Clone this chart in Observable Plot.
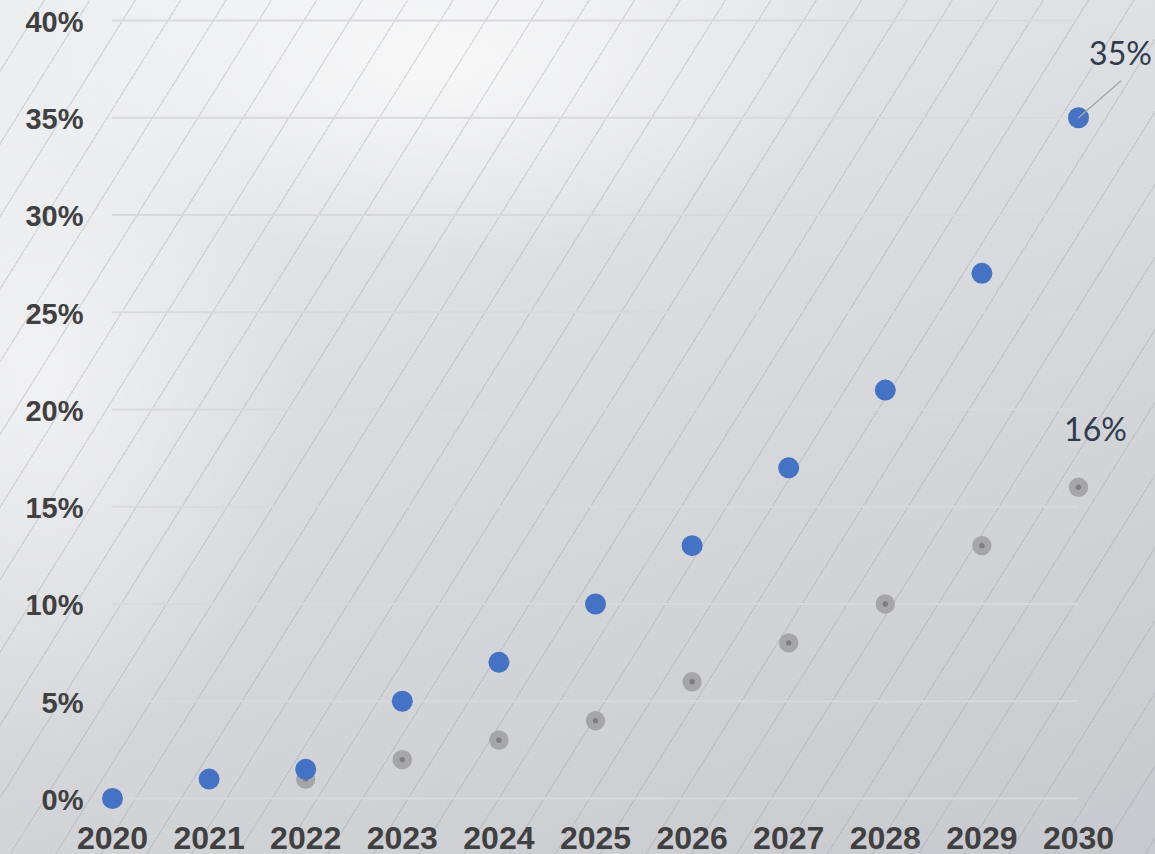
<!DOCTYPE html>
<html>
<head>
<meta charset="utf-8">
<script src="https://cdn.jsdelivr.net/npm/d3@7"></script>
<script src="https://cdn.jsdelivr.net/npm/@observablehq/plot@0.6"></script>
<style>
  html, body { margin: 0; padding: 0; }
  body { width: 1155px; height: 854px; overflow: hidden; }
  #chart {
    width: 1155px; height: 854px; position: relative;
    background:
      repeating-linear-gradient(122deg, rgba(150,152,160,0) 0px, rgba(150,152,160,0) 37px, rgba(150,152,160,0.26) 37px, rgba(150,152,160,0.26) 38.5px),
      radial-gradient(ellipse 420px 200px at 440px 60px, rgba(255,255,255,0.7), rgba(255,255,255,0) 100%),
      radial-gradient(ellipse 260px 380px at 40px 380px, rgba(255,255,255,0.55), rgba(255,255,255,0) 100%),
      linear-gradient(160deg, #eeeff1 0%, #dadbde 45%, #c8c9ce 100%);
  }
  #chart svg { position: absolute; left: 0; top: 0; }
</style>
</head>
<body>
<div id="chart"></div>
<script>
const years = [2020, 2021, 2022, 2023, 2024, 2025, 2026, 2027, 2028, 2029, 2030];
const blueValues = [0, 1, 1.5, 5, 7, 10, 13, 17, 21, 27, 35];
const grayYears = [2022, 2023, 2024, 2025, 2026, 2027, 2028, 2029, 2030];
const grayValues = [1, 2, 3, 4, 6, 8, 10, 13, 16];
const yTicks = [0, 5, 10, 15, 20, 25, 30, 35, 40];
const annYears = [2030, 2030];
const annValues = [35, 16];
const annTexts = ["35%", "16%"];

const blue = years.map((y, i) => ({year: y, value: blueValues[i]}));
const gray = grayYears.map((y, i) => ({year: y, value: grayValues[i]}));
const ann = annYears.map((y, i) => ({year: y, value: annValues[i], text: annTexts[i]}));

const chart = Plot.plot({
  width: 1155,
  height: 854,
  marginLeft: 112,
  marginRight: 77,
  marginTop: 20,
  marginBottom: 56,
  style: {background: "transparent", fontFamily: "'Liberation Sans', Arial, sans-serif", overflow: "visible"},
  x: {domain: [2020, 2030]},
  y: {domain: [0, 40]},
  marks: [
    Plot.gridY(yTicks, {stroke: "#d9d9db", strokeOpacity: 1, strokeWidth: 2}),
    Plot.axisY({ticks: yTicks, tickFormat: d => d + "%", tickSize: 0, tickPadding: 29, fontSize: 29, fontWeight: "bold", color: "#404040", label: null, dy: 2}),
    Plot.axisX({ticks: years, tickFormat: d => String(d), tickSize: 0, tickPadding: 28, fontSize: 32, fontWeight: "bold", color: "#404040", label: null}),
    Plot.dot(gray, {x: "year", y: "value", r: 9.7, fill: "#a3a3a5", fillOpacity: 0.95, stroke: "none"}),
    Plot.dot(gray, {x: "year", y: "value", r: 2.7, fill: "#7e7e80", stroke: "none"}),
    Plot.dot(blue, {x: "year", y: "value", r: 10.5, fill: "#4472c4", stroke: "none"}),
    Plot.vector(ann.filter(d => d.value === 35), {x: "year", y: "value", length: 56, rotate: 49, anchor: "start", r: 0, stroke: "#a6a6a6", strokeWidth: 1.5}),
    Plot.text(ann.filter(d => d.value === 35), {x: "year", y: "value", text: "text", dx: 42, dy: -63, fontSize: 32, fontFamily: "Lato, 'Noto Sans', sans-serif", fill: "#2f3b4f"}),
    Plot.text(ann.filter(d => d.value === 16), {x: "year", y: "value", text: "text", dx: 17, dy: -57, fontSize: 32, fontFamily: "Lato, 'Noto Sans', sans-serif", fill: "#2f3b4f"})
  ]
});
document.getElementById("chart").appendChild(chart);
</script>
</body>
</html>
